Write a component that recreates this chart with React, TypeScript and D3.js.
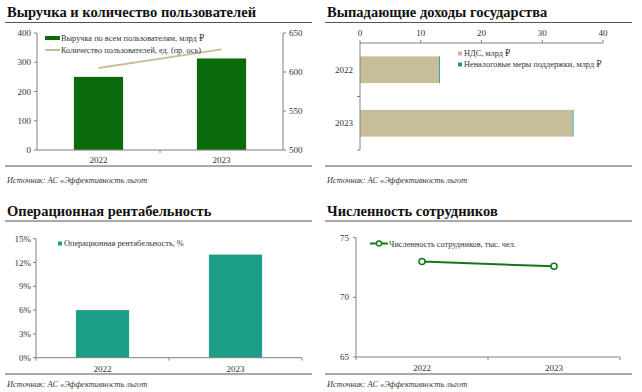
import React from 'react';
import * as d3 from 'd3';

const years = ['2022', '2023'];

// panel 1
const revenue = [250, 313];
const users = [605, 629];
const revenueTicks = [0, 100, 200, 300, 400];
const userTicks = [500, 550, 600, 650];

// panel 2
const vatLoss = [13, 35];
const nonTaxLoss = [0.15, 0.15];
const lossTicks = [0, 10, 20, 30, 40];

// panel 3
const margin = [6, 13];
const marginTicks = [0, 3, 6, 9, 12, 15];

// panel 4
const staff = [73.0, 72.6];
const staffTicks = [65, 70, 75];

const SERIF = '"Liberation Serif", "DejaVu Serif", serif';
const DARK_GREEN = '#0a6b0a';
const TAN = '#c7bd98';
const TEAL = '#1b9e85';
const LINE_GREEN = '#16761a';
const AXIS = '#808080';
const SOURCE = 'Источник: АС «Эффективность льгот';

const Frame = ({ x, y, title, titleY, topRule, ruleY, sourceY }) => (
  <g transform={`translate(${x},${y})`}>
    <text x={7} y={titleY} fontFamily={SERIF} fontWeight="bold" fontSize={14.5} fill="#111">{title}</text>
    <line x1={5} x2={312} y1={topRule} y2={topRule} stroke="#555" strokeWidth={1} />
    <line x1={5} x2={312} y1={ruleY} y2={ruleY} stroke="#555" strokeWidth={1} />
    <text x={7} y={sourceY} fontFamily={SERIF} fontStyle="italic" fontSize={8.3} fill="#333">{SOURCE}</text>
  </g>
);

const tickFont = { fontFamily: SERIF, fontSize: 9, fill: '#333' };
const legendFont = { fontFamily: SERIF, fontSize: 8.3, fill: '#333' };

const RevenueChart = () => {
  const x0 = 37, x1 = 283, yTop = 33, yBot = 150;
  const x = d3.scaleBand().domain(years).range([x0, x1]).paddingInner(0.6).paddingOuter(0.3);
  const y = d3.scaleLinear().domain([0, 400]).range([yBot, yTop]);
  const y2 = d3.scaleLinear().domain([500, 650]).range([yBot, yTop]);
  const line = d3.line<number>().x((_, i) => x(years[i])! + x.bandwidth() / 2).y(d => y2(d));
  return (
    <g>
      {revenue.map((v, i) => (
        <rect key={i} x={x(years[i])} width={x.bandwidth()} y={y(v)} height={yBot - y(v)} fill={DARK_GREEN} />
      ))}
      <path d={line(users)!} fill="none" stroke={TAN} strokeWidth={2} />
      <line x1={x0} x2={x0} y1={yTop} y2={yBot} stroke={AXIS} />
      <line x1={x1} x2={x1} y1={yTop} y2={yBot} stroke={AXIS} />
      <line x1={x0} x2={x1} y1={yBot} y2={yBot} stroke={AXIS} />
      <line x1={(x0 + x1) / 2} x2={(x0 + x1) / 2} y1={yBot} y2={yBot + 3} stroke={AXIS} />
      {revenueTicks.map(t => (
        <g key={t}>
          <line x1={x0 - 3} x2={x0} y1={y(t)} y2={y(t)} stroke={AXIS} />
          <text x={x0 - 6} y={y(t) + 3} textAnchor="end" {...tickFont}>{t}</text>
        </g>
      ))}
      {userTicks.map(t => (
        <g key={t}>
          <line x1={x1} x2={x1 + 3} y1={y2(t)} y2={y2(t)} stroke={AXIS} />
          <text x={x1 + 6} y={y2(t) + 3} {...tickFont}>{t}</text>
        </g>
      ))}
      {years.map(yr => (
        <text key={yr} x={x(yr)! + x.bandwidth() / 2} y={163} textAnchor="middle" {...tickFont}>{yr}</text>
      ))}
      <rect x={45} y={36} width={15} height={4} fill={DARK_GREEN} />
      <text x={61} y={41} {...legendFont}>Выручка по всем пользователям, млрд ₽</text>
      <line x1={45} x2={60} y1={50} y2={50} stroke={TAN} strokeWidth={2} />
      <text x={61} y={53} {...legendFont}>Количество пользователей, ед. (пр. ось)</text>
    </g>
  );
};

const LossChart = () => {
  const x0 = 360, x1 = 603, yTop = 43, yBot = 150;
  const x = d3.scaleLinear().domain([0, 40]).range([x0, x1]);
  const y = d3.scaleBand().domain(years).range([yTop, yBot]).paddingInner(0.5).paddingOuter(0.25);
  return (
    <g>
      {years.map((yr, i) => (
        <g key={yr}>
          <rect x={x(0)} width={x(vatLoss[i]) - x(0)} y={y(yr)} height={y.bandwidth()} fill={TAN} />
          <rect x={x(vatLoss[i])} width={x(vatLoss[i] + nonTaxLoss[i]) - x(vatLoss[i])} y={y(yr)} height={y.bandwidth()} fill={TEAL} />
          <text x={x0 - 7} y={y(yr)! + y.bandwidth() / 2 + 3} textAnchor="end" {...tickFont}>{yr}</text>
        </g>
      ))}
      <line x1={x0} x2={x1} y1={yTop} y2={yTop} stroke={AXIS} />
      <line x1={x0} x2={x0} y1={yTop} y2={yBot} stroke={AXIS} />
      <line x1={x0 - 3} x2={x0} y1={(yTop + yBot) / 2} y2={(yTop + yBot) / 2} stroke={AXIS} />
      <line x1={x0 - 3} x2={x0} y1={yBot} y2={yBot} stroke={AXIS} />
      {lossTicks.map(t => (
        <g key={t}>
          <line x1={x(t)} x2={x(t)} y1={yTop - 3} y2={yTop} stroke={AXIS} />
          <text x={x(t)} y={yTop - 7} textAnchor="middle" {...tickFont}>{t}</text>
        </g>
      ))}
      <rect x={458} y={51.5} width={4} height={4} fill={TAN} />
      <text x={464} y={56} {...legendFont}>НДС, млрд ₽</text>
      <rect x={458} y={62.5} width={4} height={4} fill={TEAL} />
      <text x={464} y={67} {...legendFont}>Неналоговые меры поддержки, млрд ₽</text>
    </g>
  );
};

const MarginChart = () => {
  const x0 = 36, x1 = 302, yTop = 238.7, yBot = 357.7;
  const x = d3.scaleBand().domain(years).range([x0, x1]).paddingInner(0.6).paddingOuter(0.3);
  const y = d3.scaleLinear().domain([0, 15]).range([yBot, yTop]);
  return (
    <g>
      {margin.map((v, i) => (
        <rect key={i} x={x(years[i])} width={x.bandwidth()} y={y(v)} height={yBot - y(v)} fill={TEAL} />
      ))}
      <line x1={x0} x2={x0} y1={yTop} y2={yBot} stroke={AXIS} />
      <line x1={x0} x2={x1} y1={yBot} y2={yBot} stroke={AXIS} />
      {[x0, (x0 + x1) / 2, x1].map((t, i) => (
        <line key={i} x1={t} x2={t} y1={yBot} y2={yBot + 3} stroke={AXIS} />
      ))}
      {marginTicks.map(t => (
        <g key={t}>
          <line x1={x0 - 3} x2={x0} y1={y(t)} y2={y(t)} stroke={AXIS} />
          <text x={x0 - 5} y={y(t) + 3} textAnchor="end" {...tickFont}>{t}%</text>
        </g>
      ))}
      {years.map(yr => (
        <text key={yr} x={x(yr)! + x.bandwidth() / 2} y={372} textAnchor="middle" {...tickFont}>{yr}</text>
      ))}
      <rect x={58} y={241.5} width={4} height={4} fill={TEAL} />
      <text x={64} y={246} {...legendFont}>Операционная рентабельность, %</text>
    </g>
  );
};

const StaffChart = () => {
  const x0 = 356, x1 = 620, yTop = 237.7, yBot = 357;
  const x = d3.scalePoint().domain(years).range([x0, x1]).padding(0.5);
  const y = d3.scaleLinear().domain([65, 75]).range([yBot, yTop]);
  const line = d3.line<number>().x((_, i) => x(years[i])!).y(d => y(d));
  return (
    <g>
      <line x1={x0} x2={x0} y1={yTop} y2={yBot} stroke={AXIS} />
      <line x1={x0} x2={x1} y1={yBot} y2={yBot} stroke={AXIS} />
      {[x0, (x0 + x1) / 2, x1].map((t, i) => (
        <line key={i} x1={t} x2={t} y1={yBot} y2={yBot + 3} stroke={AXIS} />
      ))}
      {staffTicks.map(t => (
        <g key={t}>
          <line x1={x0 - 3} x2={x0} y1={y(t)} y2={y(t)} stroke={AXIS} />
          <text x={x0 - 7} y={y(t) + 3} textAnchor="end" {...tickFont}>{t}</text>
        </g>
      ))}
      <path d={line(staff)!} fill="none" stroke={LINE_GREEN} strokeWidth={2} />
      {staff.map((v, i) => (
        <circle key={i} cx={x(years[i])} cy={y(v)} r={3} fill="#fff" stroke={LINE_GREEN} strokeWidth={1.5} />
      ))}
      {years.map(yr => (
        <text key={yr} x={x(yr)} y={371} textAnchor="middle" {...tickFont}>{yr}</text>
      ))}
      <line x1={370} x2={388} y1={243.5} y2={243.5} stroke={LINE_GREEN} strokeWidth={2} />
      <circle cx={379} cy={243.5} r={2.5} fill="#fff" stroke={LINE_GREEN} strokeWidth={1.3} />
      <text x={389} y={246.5} {...legendFont}>Численность сотрудников, тыс. чел.</text>
    </g>
  );
};

export default function App() {
  return (
    <svg width={642} height={392} style={{ position: 'absolute', left: 0, top: 0, background: '#fff' }}>
      <rect width={642} height={392} fill="#fff" />
      <Frame x={0} y={0} title="Выручка и количество пользователей" titleY={16.5} topRule={22.5} ruleY={166} sourceY={183} />
      <Frame x={320} y={0} title="Выпадающие доходы государства" titleY={16.5} topRule={22.5} ruleY={166} sourceY={183} />
      <Frame x={0} y={196} title="Операционная рентабельность" titleY={20} topRule={25} ruleY={178} sourceY={191} />
      <Frame x={320} y={196} title="Численность сотрудников" titleY={20} topRule={25} ruleY={178} sourceY={191} />
      <RevenueChart />
      <LossChart />
      <MarginChart />
      <StaffChart />
    </svg>
  );
}
